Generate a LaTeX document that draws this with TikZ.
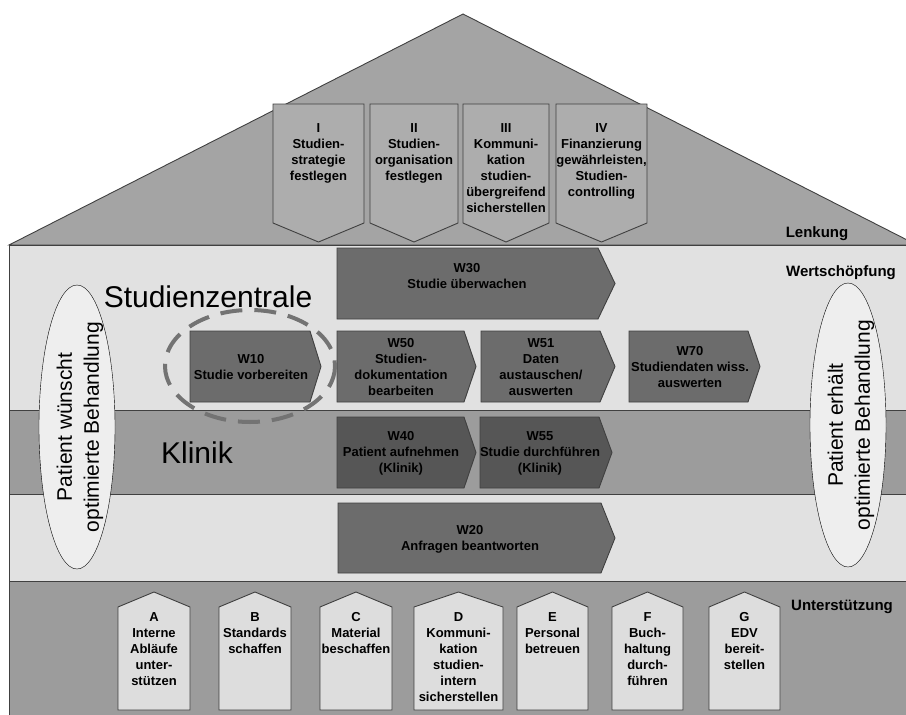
\documentclass[tikz,border=0pt]{standalone}
\usepackage{fontspec}
\setmainfont{Liberation Sans}
\definecolor{roofgray}{HTML}{A4A4A4}
\definecolor{pillargray}{HTML}{ADADAD}
\definecolor{bandlight}{HTML}{E1E1E1}
\definecolor{bandmid}{HTML}{9C9C9C}
\definecolor{wdark}{HTML}{6C6C6C}
\definecolor{wdarker}{HTML}{565656}
\definecolor{supportgray}{HTML}{DDDDDD}
\definecolor{ellfill}{HTML}{EEEEEE}
\tikzset{
	outline/.style={draw=black!75, line width=0.9pt},
	lbl/.style={font=\fontsize{13}{16}\selectfont\bfseries, align=center, inner sep=0pt},
	head/.style={font=\fontsize{15}{18}\selectfont\bfseries, inner sep=0pt},
	big/.style={font=\fontsize{30}{34}\selectfont, inner sep=0pt},
	pat/.style={font=\fontsize{21}{27}\selectfont, align=center, rotate=90, inner sep=0pt},
	ring/.style={draw=black!55, line width=4pt, dash pattern=on 22pt off 12pt},
}
\begin{document}
\begin{tikzpicture}[x=1pt,y=-1pt]
		\useasboundingbox (0,0) rectangle (906,715);
		\clip (0,0) rectangle (906,715);
		% Dach und Baender
		\draw [outline, fill=roofgray] (9,245) -- (463,14) -- (917,245) -- cycle;
		\draw [outline, fill=bandlight] (9,245) rectangle (912,410);
		\draw [outline, fill=bandmid] (9,410) rectangle (912,494);
		\draw [outline, fill=bandlight] (9,494) rectangle (912,581);
		\draw [outline, fill=bandmid] (9,581) rectangle (912,720);
		% Lenkung
		\draw [outline, fill=pillargray] (273,104) -- (364,104) -- (364,223) -- (318.5,242) -- (273,223) -- cycle;
		\draw [outline, fill=pillargray] (370,104) -- (458,104) -- (458,223) -- (414,242) -- (370,223) -- cycle;
		\draw [outline, fill=pillargray] (463,104) -- (549,104) -- (549,223) -- (506,242) -- (463,223) -- cycle;
		\draw [outline, fill=pillargray] (556,104) -- (647,104) -- (647,223) -- (601.5,242) -- (556,223) -- cycle;
		\node (l1) [lbl, anchor=north] at (318.5,123) {I\\Studien-\\strategie\\festlegen};
		\node (l2) [lbl, anchor=north] at (414,123) {II\\Studien-\\organisation\\festlegen};
		\node (l3) [lbl, anchor=north] at (506,123) {III\\Kommuni-\\kation\\studien-\\übergreifend\\sicherstellen};
		\node (l4) [lbl, anchor=north] at (601.5,123) {IV\\Finanzierung\\gewährleisten,\\Studien-\\controlling};
		\node (lenk) [head] at (817,234) {Lenkung};
		% Wertschoepfung
		\draw [outline, fill=wdark] (337,248) -- (598,248) -- (615,283.5) -- (598,319) -- (337,319) -- cycle;
		\draw [outline, fill=wdark] (190,331) -- (310,331) -- (321,366.5) -- (310,402) -- (190,402) -- cycle;
		\draw [outline, fill=wdark] (337,331) -- (464,331) -- (476,366.5) -- (464,402) -- (337,402) -- cycle;
		\draw [outline, fill=wdark] (481,331) -- (600,331) -- (615,366.5) -- (600,402) -- (481,402) -- cycle;
		\draw [outline, fill=wdark] (629,331) -- (748,331) -- (760,366.5) -- (748,402) -- (629,402) -- cycle;
		\draw [outline, fill=wdarker] (337,417) -- (464,417) -- (476,452.5) -- (464,488) -- (337,488) -- cycle;
		\draw [outline, fill=wdarker] (480,417) -- (599,417) -- (612,452.5) -- (599,488) -- (480,488) -- cycle;
		\draw [outline, fill=wdark] (338,503) -- (601,503) -- (615,538) -- (601,573) -- (338,573) -- cycle;
		\node (w30) [lbl] at (467,276) {W30\\Studie überwachen};
		\node (w10) [lbl] at (251,367) {W10\\Studie vorbereiten};
		\node (w50) [lbl] at (401,367) {W50\\Studien-\\dokumentation\\bearbeiten};
		\node (w51) [lbl] at (541,367) {W51\\Daten\\austauschen/\\auswerten};
		\node (w70) [lbl] at (690,367) {W70\\Studiendaten wiss.\\auswerten};
		\node (w40) [lbl] at (401,453) {W40\\Patient aufnehmen\\(Klinik)};
		\node (w55) [lbl] at (540,453) {W55\\Studie durchführen\\(Klinik)};
		\node (w20) [lbl] at (470,539) {W20\\Anfragen beantworten};
		\node (wert) [head] at (841,273) {Wertschöpfung};
		\node (sz) [big] at (208,297) {Studienzentrale};
		\node (kl) [big] at (197,453) {Klinik};
		\draw [ring] (250,366) ellipse [x radius=85, y radius=56];
		% Patient
		\draw [draw=black, fill=ellfill] (77,427) ellipse [x radius=38, y radius=142];
		\draw [draw=black, fill=ellfill] (848,425) ellipse [x radius=38, y radius=142];
		\node (pin) [pat] at (80,427) {Patient wünscht\\optimierte Behandlung};
		\node (pout) [pat] at (851,425) {Patient erhält\\optimierte Behandlung};
		% Unterstuetzung
		\draw [outline, fill=supportgray] (118,710) -- (118,607) -- (154,592) -- (190,607) -- (190,710) -- cycle;
		\draw [outline, fill=supportgray] (219,710) -- (219,607) -- (255,592) -- (291,607) -- (291,710) -- cycle;
		\draw [outline, fill=supportgray] (320,710) -- (320,607) -- (356,592) -- (392,607) -- (392,710) -- cycle;
		\draw [outline, fill=supportgray] (414,710) -- (414,607) -- (458.5,592) -- (503,607) -- (503,710) -- cycle;
		\draw [outline, fill=supportgray] (517,710) -- (517,607) -- (552.5,592) -- (588,607) -- (588,710) -- cycle;
		\draw [outline, fill=supportgray] (612,710) -- (612,607) -- (647.5,592) -- (683,607) -- (683,710) -- cycle;
		\draw [outline, fill=supportgray] (709,710) -- (709,607) -- (744.5,592) -- (780,607) -- (780,710) -- cycle;
		\node (sa) [lbl, anchor=north] at (154,612) {A\\Interne\\Abläufe\\unter-\\stützen};
		\node (sb) [lbl, anchor=north] at (255,612) {B\\Standards\\schaffen};
		\node (sc) [lbl, anchor=north] at (356,612) {C\\Material\\beschaffen};
		\node (sd) [lbl, anchor=north] at (458.5,612) {D\\Kommuni-\\kation\\studien-\\intern\\sicherstellen};
		\node (se) [lbl, anchor=north] at (552.5,612) {E\\Personal\\betreuen};
		\node (sf) [lbl, anchor=north] at (647.5,612) {F\\Buch-\\haltung\\durch-\\führen};
		\node (sg) [lbl, anchor=north] at (744.5,612) {G\\EDV\\bereit-\\stellen};
		\node (unt) [head] at (842,607) {Unterstützung};
	\end{tikzpicture}
\end{document}
